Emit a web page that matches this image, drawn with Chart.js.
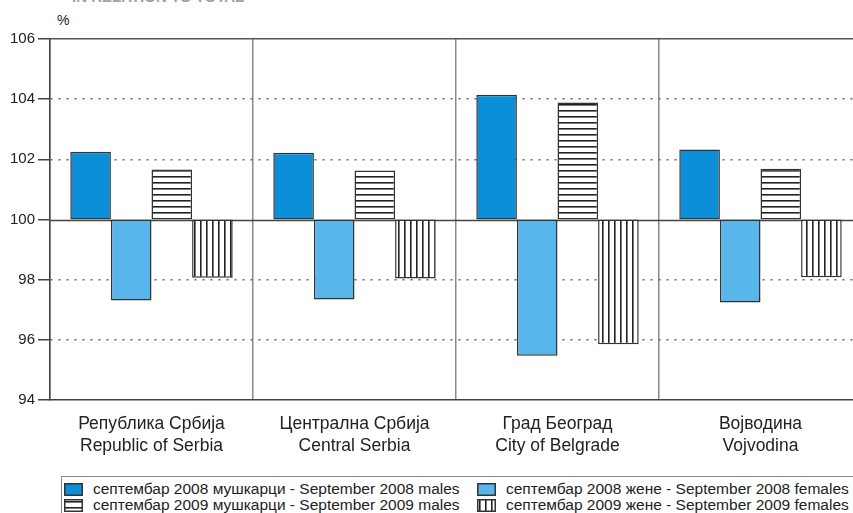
<!DOCTYPE html>
<html>
<head>
<meta charset="utf-8">
<script src="https://cdn.jsdelivr.net/npm/chart.js@4/dist/chart.umd.min.js"></script>
<style>
  body { margin: 0; width: 853px; height: 513px; overflow: hidden; background: #fff; position: relative;
         font-family: "Liberation Sans", Arial, sans-serif; }
  #wrap { position: absolute; left: 0; top: 0; width: 866px; height: 470px; }
  #head { position: absolute; left: 72px; top: -12px; font-size: 15px; font-weight: bold; color: #a0a0a0; white-space: nowrap; }
  #unit { position: absolute; left: 57px; top: 12px; font-size: 14px; color: #222; }
  #legend { position: absolute; left: 61px; top: 476px; width: 820px; height: 60px; border: 1px solid #888; color: #222; font-size: 15.5px; }
  .item { position: absolute; display: flex; align-items: center; height: 16px; white-space: nowrap; }
  .item canvas { margin-right: 10px; }
</style>
</head>
<body>
<div id="head">IN RELATION TO TOTAL</div>
<div id="unit">%</div>
<div id="wrap"><canvas id="chart"></canvas></div>
<div id="legend"></div>
<script>
// === данные ===
const categories = [
    ["Република Србија", "Republic of Serbia"],
    ["Централна Србија", "Central Serbia"],
    ["Град Београд", "City of Belgrade"],
    ["Војводина", "Vojvodina"]
];
const males2008 = [102.25, 102.22, 104.15, 102.33];
const females2008 = [97.31, 97.34, 95.47, 97.24];
const males2009 = [101.66, 101.63, 103.89, 101.69];
const females2009 = [98.06, 98.04, 95.85, 98.08];
const seriesLabels = [
    "септембар 2008 мушкарци - September 2008 males",
    "септембар 2008 жене - September 2008 females",
    "септембар 2009 мушкарци - September 2009 males",
    "септембар 2009 жене - September 2009 females"
];
const baseValue = 100;
const yTicks = [94, 96, 98, 100, 102, 104, 106];

// === штриховки ===
function stripes(vertical) {
    const c = document.createElement("canvas");
    c.width = 6; c.height = 6;
    const g = c.getContext("2d");
    g.fillStyle = "#fff";
    g.fillRect(0, 0, 6, 6);
    g.fillStyle = "#222";
    if (vertical) g.fillRect(2, 0, 1.6, 6);
    else g.fillRect(0, 2, 6, 1.6);
    return g.createPattern(c, "repeat");
}
const fills = ["#0a8fd8", "#58b6ea", stripes(false), stripes(true)];

const seriesData = [males2008, females2008, males2009, females2009];
const datasets = seriesData.map((arr, i) => ({
    label: seriesLabels[i],
    data: arr.map(v => [baseValue, v]),
    backgroundColor: fills[i],
    borderColor: "#333",
    borderWidth: 1.5,
    borderSkipped: false,
    barPercentage: 1,
    categoryPercentage: 0.8
}));

// линия 100
const baseLine = {
    id: "baseLine",
    beforeDatasetsDraw(chart) {
        const { ctx, chartArea, scales } = chart;
        const y = Math.round(scales.y.getPixelForValue(baseValue)) + 0.5;
        ctx.save();
        ctx.strokeStyle = "#444";
        ctx.lineWidth = 1.5;
        ctx.beginPath();
        ctx.moveTo(chartArea.left, y);
        ctx.lineTo(chartArea.right, y);
        ctx.stroke();
        ctx.restore();
    }
};

Chart.defaults.font.family = "'Liberation Sans', Arial, sans-serif";

const chart = new Chart(document.getElementById("chart"), {
    type: "bar",
    data: { labels: categories, datasets },
    options: {
        responsive: true,
        maintainAspectRatio: false,
        animation: false,
        layout: { padding: { top: 39, right: 4, left: 0, bottom: 0 } },
        plugins: { legend: { display: false }, tooltip: { enabled: false } },
        scales: {
            x: {
                grid: { offset: true, color: "#8a8a8a", lineWidth: 1.5, drawTicks: false },
                border: { color: "#444", width: 1.5 },
                ticks: { font: { size: 17.5, lineHeight: 1.25 }, color: "#222", padding: 13, maxRotation: 0, autoSkip: false },
                afterFit: s => { s.height = 70; }
            },
            x2: {
                position: "top",
                grid: { display: false },
                ticks: { display: false },
                border: { color: "#555", width: 1.5 },
                afterFit: s => { s.height = 0; }
            },
            y: {
                min: yTicks[0],
                max: yTicks[yTicks.length - 1],
                afterBuildTicks: s => { s.ticks = yTicks.map(v => ({ value: v })); },
                ticks: { font: { size: 15 }, color: "#222", padding: 3 },
                grid: {
                    color: c => (c.tick && [94, 100, 106].includes(c.tick.value)) ? "rgba(0,0,0,0)" : "#666",
                    tickColor: "#444",
                    tickLength: 12,
                    lineWidth: 1.5,
                    tickWidth: 1.5
                },
                border: { color: "#444", width: 1.5, dash: [2, 6] },
                afterFit: s => { s.width = 50; }
            }
        }
    },
    plugins: [baseLine]
});

// === легенда ===
const legend = document.getElementById("legend");
const spots = [[2, 4], [415, 4], [2, 20], [415, 20]];
chart.data.datasets.forEach((ds, i) => {
    const item = document.createElement("div");
    item.className = "item";
    item.style.left = spots[i][0] + "px";
    item.style.top = spots[i][1] + "px";
    const icon = document.createElement("canvas");
    icon.width = 19; icon.height = 13;
    const g = icon.getContext("2d");
    g.fillStyle = ds.backgroundColor;
    g.fillRect(0, 0, 19, 13);
    g.strokeStyle = "#333";
    g.lineWidth = 1.5;
    g.strokeRect(0.75, 0.75, 17.5, 11.5);
    item.appendChild(icon);
    const txt = document.createElement("span");
    txt.textContent = ds.label;
    item.appendChild(txt);
    legend.appendChild(item);
});
</script>
</body>
</html>
